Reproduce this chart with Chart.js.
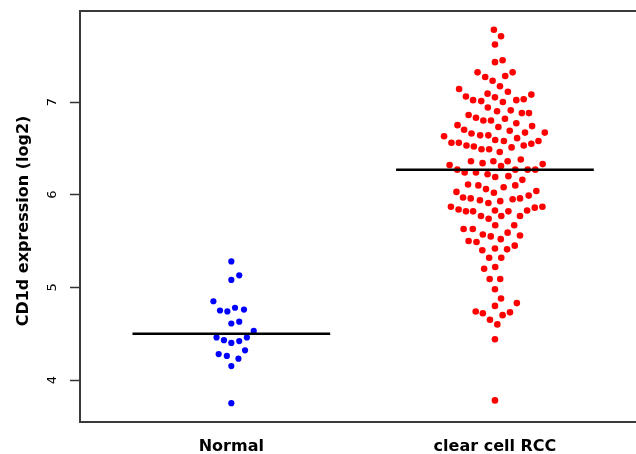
<!DOCTYPE html>
<html>
<head>
<meta charset="utf-8">
<script src="https://cdn.jsdelivr.net/npm/chart.js@4"></script>
<style>
  html, body { margin: 0; padding: 0; background: #fff; overflow: hidden; }
  #wrap { width: 636px; height: 454px; position: relative; }
</style>
</head>
<body>
<div id="wrap"><canvas id="swarmChart"></canvas></div>
<script>
// Grupper och y-axelns ticks
const categories = ['Normal', 'clear cell RCC'];
const yTicks = [4, 5, 6, 7];
const yTitle = 'CD1d expression (log2)';

// Normal: värden (log2) och sidoförskjutning i swarmen (x-enheter)
const normalValues = [5.28, 5.08, 5.13, 4.85, 4.75, 4.74, 4.78, 4.76, 4.61, 4.63, 4.53,
  4.46, 4.46, 4.43, 4.42, 4.40, 4.32, 4.28, 4.26, 4.23, 4.15, 3.75];
const normalOffsets = [0, 0, 0.030, -0.068, -0.043, -0.015, 0.014, 0.048, 0, 0.030, 0.085,
  -0.056, 0.059, -0.028, 0.030, 0, 0.052, -0.048, -0.017, 0.027, 0, 0];

// clear cell RCC
const rccValues = [
  7.78, 7.71, 7.62, 7.43, 7.45,
  7.32, 7.27, 7.23, 7.28, 7.32,
  7.17, 7.14, 7.11,
  7.06, 7.02, 7.01, 7.09, 7.05, 7.00, 7.02, 7.03, 7.08,
  6.94, 6.90, 6.91, 6.88, 6.88,
  6.86, 6.83, 6.80, 6.80, 6.82, 6.77,
  6.75, 6.73, 6.74,
  6.70, 6.66, 6.64, 6.64, 6.69, 6.67, 6.67,
  6.63, 6.56, 6.56, 6.53, 6.52, 6.49, 6.49, 6.59, 6.58, 6.61, 6.51, 6.53, 6.55, 6.58,
  6.46,
  6.36, 6.34, 6.36, 6.36, 6.38,
  6.32, 6.27, 6.24, 6.24, 6.22, 6.19, 6.31, 6.20, 6.27, 6.27, 6.27, 6.33,
  6.11, 6.10, 6.06, 6.02, 6.08, 6.10, 6.16,
  6.03, 5.97, 5.96, 5.94, 5.91, 5.93, 5.95, 5.96, 5.99, 6.04,
  5.87, 5.84, 5.82, 5.82, 5.77, 5.74, 5.83, 5.77, 5.82, 5.77, 5.83, 5.86, 5.87,
  5.67, 5.67,
  5.63, 5.63, 5.57, 5.55, 5.59, 5.56,
  5.50, 5.49, 5.52,
  5.40, 5.42, 5.41, 5.45,
  5.32, 5.32,
  5.20, 5.22,
  5.09, 5.09,
  4.98,
  4.88,
  4.80, 4.83,
  4.74, 4.72, 4.65, 4.70, 4.73,
  4.60,
  4.44,
  3.78
];
const rccOffsets = [
  -0.004, 0.023, 0, 0, 0.029,
  -0.066, -0.037, -0.009, 0.039, 0.067,
  0.019, -0.136, 0.049,
  -0.110, -0.083, -0.052, -0.028, 0, 0.030, 0.081, 0.109, 0.138,
  -0.027, 0.008, 0.060, 0.102, 0.129,
  -0.100, -0.072, -0.044, -0.015, 0.038, 0.081,
  -0.142, 0.013, 0.141,
  -0.117, -0.089, -0.056, -0.025, 0.056, 0.114, 0.189,
  -0.193, -0.165, -0.137, -0.108, -0.080, -0.051, -0.022, 0.001, 0.034, 0.084, 0.063, 0.109, 0.138, 0.165,
  0.018,
  -0.091, -0.047, -0.006, 0.048, 0.098,
  -0.172, -0.143, -0.115, -0.072, -0.028, 0.001, 0.023, 0.051, 0.077, 0.124, 0.153, 0.181,
  -0.102, -0.063, -0.034, -0.004, 0.033, 0.077, 0.104,
  -0.146, -0.121, -0.092, -0.057, -0.025, 0.020, 0.067, 0.095, 0.128, 0.157,
  -0.167, -0.138, -0.110, -0.083, -0.053, -0.024, 0, 0.024, 0.051, 0.095, 0.122, 0.151, 0.180,
  0.001, 0.073,
  -0.119, -0.084, -0.046, -0.016, 0.048, 0.095,
  -0.100, -0.070, 0.022,
  -0.048, 0, 0.046, 0.075,
  -0.022, 0.024,
  -0.041, 0.001,
  -0.020, 0.020,
  0,
  0.023,
  0, 0.083,
  -0.073, -0.046, -0.019, 0.029, 0.057,
  0.009,
  0,
  0
];

// Medianer (horisontella streck)
const medians = [4.50, 6.27];

const FONT = 'DejaVu Sans';
const X_MIN = 0.426, X_MAX = 2.535;
const Y_MIN = 3.547, Y_MAX = 7.982;

function toPoints(values, offsets, groupX) {
  return values.map((v, i) => ({ x: groupX + offsets[i], y: v }));
}

function medianLine(groupX, value) {
  return [{ x: groupX - 0.375, y: value }, { x: groupX + 0.375, y: value }];
}

// Ritar axeltexterna själv (roterade som i R)
const axisTextPlugin = {
  id: 'axisText',
  afterDraw(chart) {
    const ctx = chart.ctx;
    const xs = chart.scales.x;
    const ys = chart.scales.y;
    ctx.save();
    ctx.fillStyle = '#000';

    // y-tick-etiketter
    ctx.font = '13px "' + FONT + '"';
    ctx.textAlign = 'center';
    ctx.textBaseline = 'middle';
    yTicks.forEach(t => {
      ctx.save();
      ctx.translate(53, ys.getPixelForValue(t));
      ctx.rotate(-Math.PI / 2);
      ctx.fillText(String(t), 0, 0);
      ctx.restore();
    });

    // y-axelns titel
    ctx.font = 'bold 16px "' + FONT + '"';
    ctx.save();
    ctx.translate(24, 221);
    ctx.rotate(-Math.PI / 2);
    ctx.fillText(yTitle, 0, 0);
    ctx.restore();

    // gruppnamn under x-axeln
    ctx.textBaseline = 'alphabetic';
    categories.forEach((c, i) => {
      ctx.fillText(c, xs.getPixelForValue(i + 1), 451);
    });
    ctx.restore();
  }
};

function ritaDiagram() {
  const ctx = document.getElementById('swarmChart').getContext('2d');

  new Chart(ctx, {
    type: 'scatter',
    data: {
      datasets: [
        {
          label: 'median ' + categories[0],
          type: 'line',
          data: medianLine(1, medians[0]),
          borderColor: '#000',
          borderWidth: 2.5,
          pointRadius: 0,
          order: 0
        },
        {
          label: 'median ' + categories[1],
          type: 'line',
          data: medianLine(2, medians[1]),
          borderColor: '#000',
          borderWidth: 2.5,
          pointRadius: 0,
          order: 0
        },
        {
          label: categories[0],
          data: toPoints(normalValues, normalOffsets, 1),
          backgroundColor: '#0000ff',
          borderWidth: 0,
          pointRadius: 3.1,
          order: 1
        },
        {
          label: categories[1],
          data: toPoints(rccValues, rccOffsets, 2),
          backgroundColor: '#ff0000',
          borderWidth: 0,
          pointRadius: 3.3,
          order: 1
        }
      ]
    },
    options: {
      responsive: true,
      maintainAspectRatio: false,
      animation: false,
      devicePixelRatio: 1,
      layout: { autoPadding: false, padding: { top: 11, left: 0, right: 0, bottom: 0 } },
      plugins: {
        legend: { display: false },
        tooltip: { enabled: false }
      },
      scales: {
        x: {
          type: 'linear',
          position: 'bottom',
          min: X_MIN,
          max: X_MAX,
          grid: { display: false, drawTicks: false },
          border: { display: true, color: '#3a3a3a', width: 2 },
          ticks: { display: false },
          afterFit: scale => { scale.height = 32; }
        },
        xTop: {
          type: 'linear',
          position: 'top',
          min: X_MIN,
          max: X_MAX,
          grid: { display: false, drawTicks: false },
          border: { display: true, color: '#3a3a3a', width: 2 },
          ticks: { display: false },
          afterFit: scale => { scale.height = 0; }
        },
        y: {
          type: 'linear',
          min: Y_MIN,
          max: Y_MAX,
          afterBuildTicks: scale => { scale.ticks = yTicks.map(v => ({ value: v })); },
          grid: {
            drawOnChartArea: false,
            drawTicks: true,
            tickLength: 10,
            tickColor: '#333',
            tickWidth: 1.5
          },
          border: { display: true, color: '#3a3a3a', width: 2 },
          ticks: { color: 'rgba(0,0,0,0)' },
          afterFit: scale => { scale.width = 80; }
        }
      }
    },
    plugins: [axisTextPlugin]
  });
}

ritaDiagram();
</script>
</body>
</html>
